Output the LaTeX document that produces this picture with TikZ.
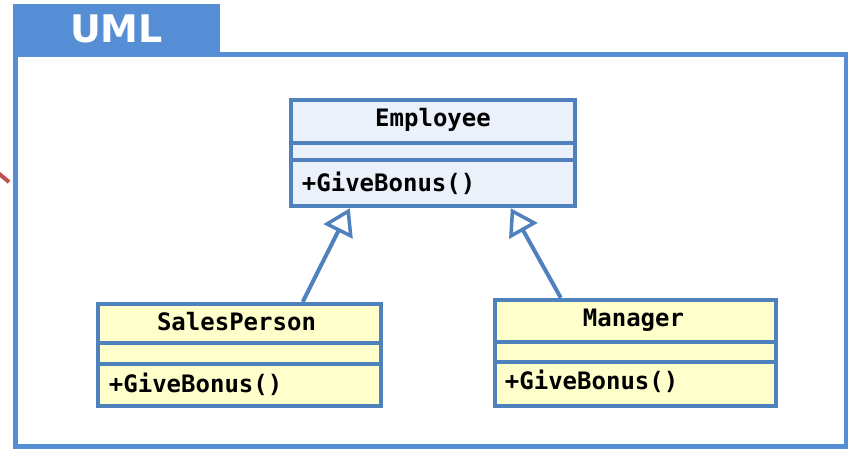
\documentclass[tikz,border=0pt]{standalone}
\usepackage{fontspec}
\setmonofont{DejaVu Sans Mono}
\setsansfont{DejaVu Sans}
\usepackage{tikz}
\usetikzlibrary{arrows.meta,positioning}

\definecolor{framebl}{RGB}{85,142,213}
\definecolor{boxbl}{RGB}{79,129,189}
\definecolor{empfill}{RGB}{234,241,251}
\definecolor{subfill}{RGB}{255,255,204}
\definecolor{stubred}{RGB}{192,80,77}

\begin{document}
\begin{tikzpicture}[x=1pt, y=-1pt, line join=miter,
    inherit/.style={draw=boxbl, line width=4pt, -{Triangle[open, length=26pt 0 0, width=32pt 0 0, line width=3.5pt]}},
    font=\ttfamily\bfseries\fontsize{24}{28}\selectfont]

    \tikzstyle{classbox}=[draw=boxbl, line width=4.5pt, inner sep=0pt]
    \tikzstyle{divider}=[draw=boxbl, line width=4.3pt]
    \tikzstyle{title}=[anchor=base, inner sep=0pt]
    \tikzstyle{method}=[anchor=base west, inner sep=0pt]

    \useasboundingbox (0,0) rectangle (848,448);

    % frame and tab
    \fill[framebl] (13,4) rectangle (220,55);
    \node[text=white, font=\sffamily\bfseries\fontsize{38}{40}\selectfont, anchor=base, inner sep=0pt] (tab) at (116.5,42) {UML};
    \draw[framebl, line width=5pt] (15,54.5) rectangle (846,446);
    \coordinate (stubA) at (-3,172);
    \coordinate (stubB) at (9,182);
    \draw[stubred, line width=4pt] (stubA) -- (stubB);

    % classes
    \node[classbox, fill=empfill, minimum width=284pt, minimum height=106pt] (emp) at (433,153) {};
    \node[classbox, fill=subfill, minimum width=283pt, minimum height=102pt] (sales) at (239.5,355) {};
    \node[classbox, fill=subfill, minimum width=281pt, minimum height=106pt] (mgr) at (635.5,353) {};

    \draw[divider] ([yshift=-45pt]emp.north west) -- ([yshift=-45pt]emp.north east);
    \draw[divider] ([yshift=-62pt]emp.north west) -- ([yshift=-62pt]emp.north east);
    \draw[divider] ([yshift=-41pt]sales.north west) -- ([yshift=-41pt]sales.north east);
    \draw[divider] ([yshift=-62pt]sales.north west) -- ([yshift=-62pt]sales.north east);
    \draw[divider] ([yshift=-44pt]mgr.north west) -- ([yshift=-44pt]mgr.north east);
    \draw[divider] ([yshift=-64pt]mgr.north west) -- ([yshift=-64pt]mgr.north east);

    \node[title] (empname) at ([yshift=-29pt]emp.north) {Employee};
    \node[method] (empop) at ([xshift=13pt, yshift=-94pt]emp.north west) {+GiveBonus()};
    \node[title] (salesname) at ([xshift=-3pt, yshift=-29pt]sales.north) {SalesPerson};
    \node[method] (salesop) at ([xshift=13pt, yshift=-91pt]sales.north west) {+GiveBonus()};
    \node[title] (mgrname) at ([xshift=-2pt, yshift=-29pt]mgr.north) {Manager};
    \node[method] (mgrop) at ([xshift=12pt, yshift=-92pt]mgr.north west) {+GiveBonus()};

    % generalisation
    \draw[inherit] ([xshift=207pt]sales.north west) -- ([xshift=61pt]emp.south west);
    \draw[inherit] ([xshift=68pt]mgr.north west) -- ([xshift=222pt]emp.south west);
\end{tikzpicture}
\end{document}
